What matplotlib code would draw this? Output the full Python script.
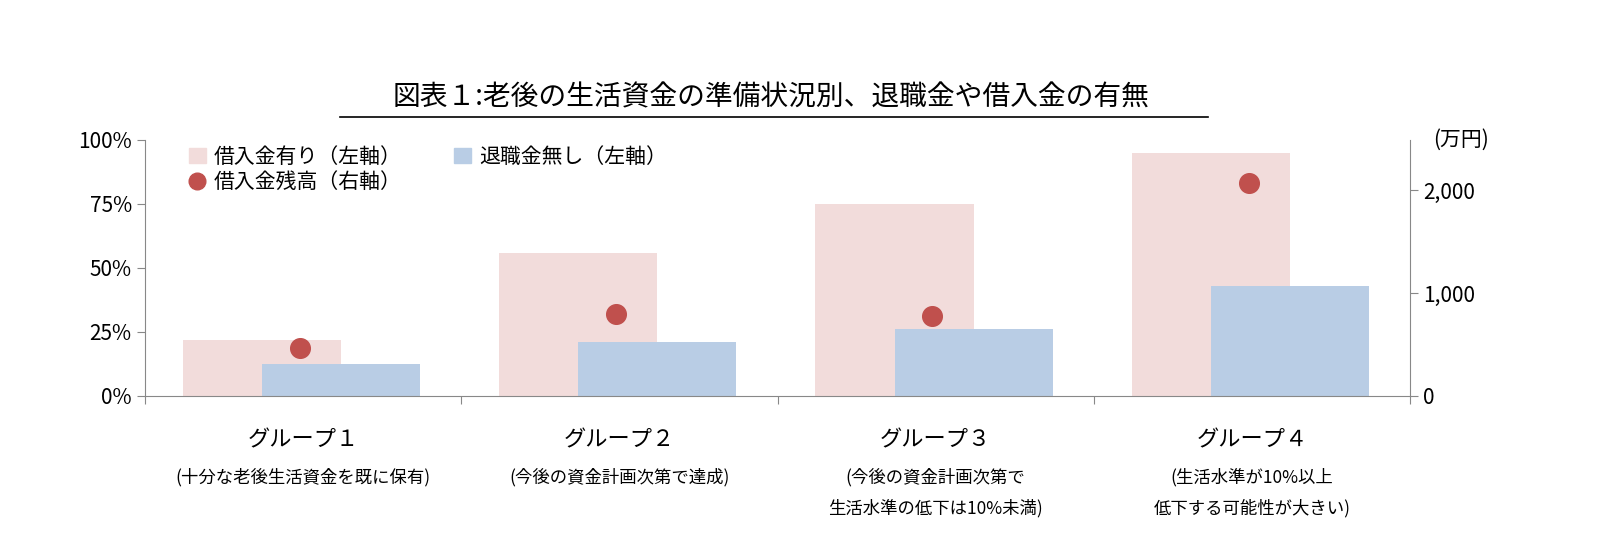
import matplotlib

matplotlib.use("Agg")
import matplotlib.pyplot as plt
import numpy as np
from matplotlib.lines import Line2D
from matplotlib.patches import Patch

plt.rcParams["font.family"] = "Noto Sans CJK JP"

groups = ["グループ１", "グループ２", "グループ３", "グループ４"]
subs = ["(十分な老後生活資金を既に保有)", "(今後の資金計画次第で達成)",
        "(今後の資金計画次第で\n生活水準の低下は10%未満)",
        "(生活水準が10%以上\n低下する可能性が大きい)"]
borrow_pct = [22, 56, 75, 95]
noretire_pct = [12.5, 21, 26, 43]
balance = [466, 796, 777, 2068]

PINK = "#f2dcdb"
BLUE = "#b9cde5"
RED = "#c0504d"

fig = plt.figure(figsize=(16.12, 5.56), dpi=100)
ax = fig.add_axes([145 / 1612, 1 - 396 / 556, 1265 / 1612, 256 / 556])
x = np.arange(len(groups))
ax.bar(x - 0.13, borrow_pct, width=0.5, color=PINK, zorder=1)
ax.bar(x + 0.12, noretire_pct, width=0.5, color=BLUE, zorder=2)
ax.set_xlim(-0.5, 3.5)
ax.set_ylim(0, 100)
ax.set_yticks([0, 25, 50, 75, 100])
ax.set_yticklabels([f"{v}%" for v in [0, 25, 50, 75, 100]], fontsize=15)
ax.set_xticks(np.arange(-0.5, 4, 1))
ax.set_xticklabels([])
ax.tick_params(axis="x", length=6, color="#888888")
ax.tick_params(axis="y", length=6, color="#888888")
for s in ["top", "right"]:
    ax.spines[s].set_visible(False)
for s in ["left", "bottom"]:
    ax.spines[s].set_color("#888888")

ax2 = ax.twinx()
ax2.scatter(x - 0.01, balance, s=200, color=RED, zorder=5)
ax2.set_ylim(0, 2000 * 256 / 206)
ax2.set_yticks([0, 1000, 2000])
ax2.set_yticklabels(["0", "1,000", "2,000"], fontsize=15)
ax2.tick_params(axis="y", length=6, color="#888888")
for s in ["top", "left", "bottom"]:
    ax2.spines[s].set_visible(False)
ax2.spines["right"].set_color("#888888")
ax2.text(1.04, 1.0, "(万円)", transform=ax.transAxes, fontsize=15, va="center", ha="center")

for i, (g, s) in enumerate(zip(groups, subs)):
    ax.text(i, -0.17, g, transform=ax.get_xaxis_transform(), ha="center", va="center", fontsize=16)
    ax.text(i, -0.28, s, transform=ax.get_xaxis_transform(), ha="center", va="top",
            fontsize=12.5, linespacing=1.9)

# ncol=2 fills column-wise, so order gives row1: pink, blue / row2: dot
handles = [Patch(color=PINK, label="借入金有り（左軸）"),
           Line2D([], [], marker="o", color=RED, linestyle="none", markersize=12,
                  label="借入金残高（右軸）"),
           Patch(color=BLUE, label="退職金無し（左軸）")]
ax2.legend(handles=handles, ncol=2, loc="upper left", bbox_to_anchor=(0.02, 1.05),
           frameon=False, fontsize=15, handlelength=0.8, handletextpad=0.4,
           columnspacing=2.5, labelspacing=0.15)

fig.text(0.478, 1 - 97 / 556, "図表１:老後の生活資金の準備状況別、退職金や借入金の有無",
         ha="center", va="center", fontsize=20)
fig.add_artist(Line2D([340 / 1612, 1208 / 1612], [1 - 117 / 556] * 2, color="black", lw=1.2))

fig.savefig("out.png")
